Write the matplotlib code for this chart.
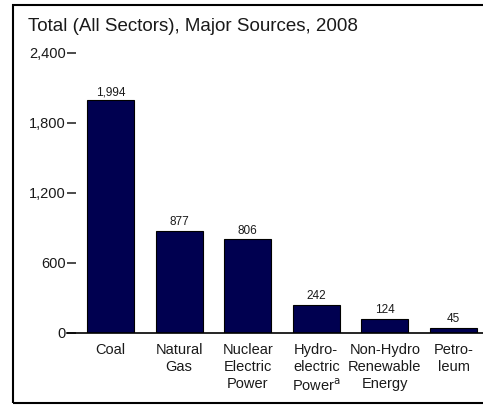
import matplotlib.pyplot as plt
from matplotlib.patches import Rectangle

plt.rcParams['font.family'] = ['Liberation Sans', 'DejaVu Sans']

# Energy consumption by major source, 2008
sources = ['Coal', 'Natural\nGas', 'Nuclear\nElectric\nPower', 'Hydro-\nelectric\nPower$^{\\mathrm{a}}$',
           'Non-Hydro\nRenewable\nEnergy', 'Petro-\nleum']
values = [1994, 877, 806, 242, 124, 45]
yticks = [0, 600, 1200, 1800, 2400]
ytick_labels = ['0', '600', '1,200', '1,800', '2,400']

fig = plt.figure(figsize=(4.83, 4.05), dpi=100)
ax = fig.add_axes([67 / 483, 72 / 405, 416 / 483, 280 / 405])

text_color = '#1a1a1a'
bar_color = '#000050'
x = range(len(values))
ax.bar(x, values, width=0.685, color=bar_color, edgecolor='black', linewidth=0.8, zorder=2)
for xi, v in zip(x, values):
    ax.text(xi, v + 20, f'{v:,}', ha='center', va='bottom', fontsize=8.5, color=text_color)

ax.set_xlim(-0.634, 5.43)
ax.set_ylim(0, 2400)
ax.set_yticks(yticks)
ax.set_yticklabels(ytick_labels, fontsize=10.5, color=text_color)
ax.set_xticks(list(x))
ax.set_xticklabels(sources, fontsize=10.5, color=text_color, linespacing=1.28)
ax.tick_params(axis='y', direction='in', length=6.5, width=1.1, pad=1, color=text_color)
ax.tick_params(axis='x', length=0, pad=7)

for side in ['top', 'right', 'left']:
    ax.spines[side].set_visible(False)
ax.spines['bottom'].set_linewidth(1.2)
ax.spines['bottom'].set_zorder(3)

fig.text(28 / 483, 1 - 31 / 405, 'Total (All Sectors), Major Sources, 2008',
         fontsize=13.5, color=text_color, va='baseline', ha='left')

# frame around the panel, right side runs off the figure
fig.patches.append(Rectangle((13 / 483, 2 / 405), 500 / 483, 398 / 405, transform=fig.transFigure,
                             fill=False, edgecolor='black', linewidth=1.5))

fig.savefig('out.png', dpi=100)
